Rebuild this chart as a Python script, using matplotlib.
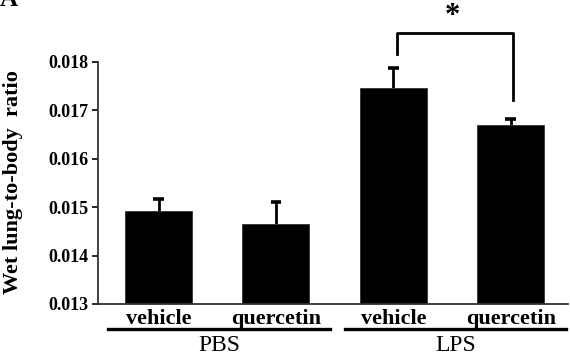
import matplotlib
matplotlib.use("Agg")
import matplotlib.pyplot as plt
import numpy as np

groups = ["PBS", "LPS"]
treatments = ["vehicle", "quercetin", "vehicle", "quercetin"]
means = [0.01492, 0.01465, 0.01746, 0.01670]
errors = [0.00025, 0.00046, 0.00042, 0.00012]
yticks = [0.013, 0.014, 0.015, 0.016, 0.017, 0.018]
ylabel = "Wet lung-to-body  ratio"

plt.rcParams['font.family'] = ['Liberation Serif', 'DejaVu Serif']
plt.rcParams['font.weight'] = 'bold'

fig = plt.figure(figsize=(5.70, 3.57), dpi=100)
ax = fig.add_axes([0.172, 0.1485, 0.824, 0.678])

x = np.arange(len(means))
w = 0.57
ax.bar(x, means, width=w, color='black', edgecolor='#333333', linewidth=0.6,
       zorder=2)
tops = np.array(means) + np.array(errors)
ax.vlines(x, means, tops, color='black', lw=2.0, zorder=1)
ax.hlines(tops, x - 0.045, x + 0.045, color='black', lw=2.6, zorder=1)

ax.set_ylim(0.013, 0.018)
ax.set_xlim(-0.515, 3.485)
ax.set_yticks(yticks)
ax.set_yticklabels([f"{v:.3f}" for v in yticks], fontsize=13, fontweight='bold')
ax.set_xticks(x)
ax.set_xticklabels(treatments, fontsize=16, fontweight='bold')
ax.tick_params(axis='x', length=0, pad=3.5)
ax.tick_params(axis='y', length=4, width=1.2, direction='out', pad=3)
for s in ['top', 'right']:
    ax.spines[s].set_visible(False)
for s in ['left', 'bottom']:
    ax.spines[s].set_linewidth(1.3)
    ax.spines[s].set_color('#333333')

ax.set_ylabel(ylabel, fontsize=16, fontweight='bold', va='center')
ax.yaxis.set_label_coords(-0.182, 0.505)

trans = ax.get_xaxis_transform()
group_spans = [(-0.43, 1.46), (1.585, 3.47)]
for name, (a, b) in zip(groups, group_spans):
    ax.plot([a, b], [-0.103, -0.103], transform=trans, color='black', lw=2.4,
            clip_on=False)
    ax.text((a + b) / 2, -0.172, name, transform=trans, ha='center', va='center',
            fontsize=17, fontweight='normal')

# significance bracket
ax.plot([2.03, 2.03, 3.017, 3.017], [0.01817, 0.0186, 0.0186, 0.01721],
        color='black', lw=2, clip_on=False)
ax.text(2.505, 0.01893, "*", ha='center', va='center', fontsize=22,
        fontweight='bold', clip_on=False)

fig.text(0.0, 1.0, "A", ha='left', va='center', fontsize=18, fontweight='bold')

fig.savefig("out.png", dpi=100)
